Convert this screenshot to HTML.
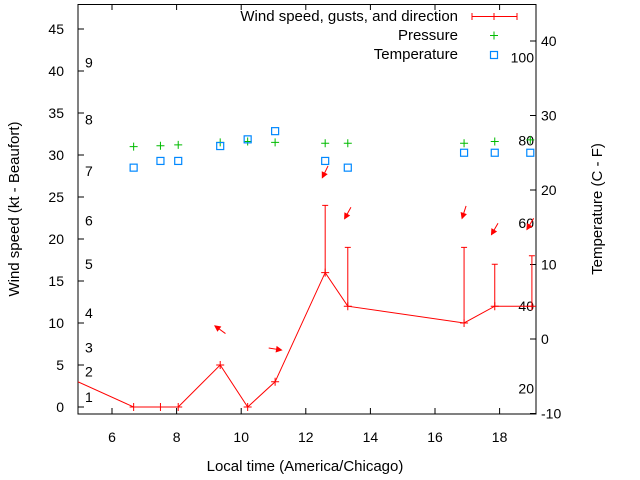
<!DOCTYPE html>
<html><head><meta charset="utf-8"><style>
body{margin:0;background:#fff;}
svg{display:block;font-family:"Liberation Sans",sans-serif;}
</style></head><body>
<svg width="640" height="480" viewBox="0 0 640 480">
<defs><clipPath id="clip"><rect x="78" y="4" width="458" height="410"/></clipPath></defs>
<g id="axes"></g>
<g id="plot" clip-path="url(#clip)"></g>
<g id="legend"></g>
<script>
const hours=[4.6,6.67,7.5,8.05,9.35,10.2,11.05,12.6,13.3,16.9,17.85,19.0];
const windKt=[3.6,0,0,0,5,0,3,16,12,10,12,12];
const gustKt=[null,null,null,null,null,null,null,24,19,19,17,18];
const pHours=[6.67,7.5,8.05,9.35,10.2,11.05,12.6,13.3,16.9,17.85,18.95];
const pressure=[31.0,31.1,31.2,31.5,31.6,31.5,31.4,31.4,31.4,31.6,31.8];
const tempC=[23.0,23.9,23.9,25.9,26.8,27.9,23.9,23.0,25.0,25.0,25.0];
const arrowHours=[9.35,11.05,12.6,13.3,16.9,17.85,18.95];
const arrowKt=[9.2,6.9,28.0,23.1,23.2,21.2,21.8];
const arrowDeg=[216,9,116,119,108,120,121];
const xTicks=[6,8,10,12,14,16,18];
const yTicks=[0,5,10,15,20,25,30,35,40,45];
const y2Ticks=[-10,0,10,20,30,40];
const fLabels=[20,40,60,80,100];
const bftLabels=[1,2,3,4,5,6,7,8,9];
const bftKt=[1.2,4.2,7.1,11.2,17.0,22.2,28.1,34.2,41.0];
const NS='http://www.w3.org/2000/svg';
const X=h=>112+(h-6)*32.3;
const Y=v=>407-v*8.4;
const Y2=c=>339-c*7.45;
function mk(tag,at,parent){const e=document.createElementNS(NS,tag);for(const k in at)e.setAttribute(k,at[k]);parent.appendChild(e);return e;}
const ax=document.getElementById('axes'),pl=document.getElementById('plot'),lg=document.getElementById('legend');
let b=mk('rect',{x:78,y:4.5,width:458,height:409.5,fill:'none',stroke:'#000','stroke-width':1},ax);

xTicks.forEach(t=>{const x=X(t);mk('line',{x1:x,x2:x,y1:414,y2:408,stroke:'#000'},ax);mk('line',{x1:x,x2:x,y1:4,y2:10,stroke:'#000'},ax);
 const tx=mk('text',{x:x,y:442,'text-anchor':'middle','font-size':14,fill:'#000'},ax);tx.textContent=t;
 });
yTicks.forEach(t=>{const y=Y(t);mk('line',{x1:78,x2:84,y1:y,y2:y,stroke:'#000'},ax);
 const tx=mk('text',{x:64,y:y+5,'text-anchor':'end','font-size':14,fill:'#000'},ax);tx.textContent=t;
 });
y2Ticks.forEach(t=>{const y=Y2(t);mk('line',{x1:536,x2:530,y1:y,y2:y,stroke:'#000'},ax);
 const tx=mk('text',{x:541,y:y+5,'font-size':14,fill:'#000'},ax);tx.textContent=t;
 });
fLabels.forEach(f=>{const c=(f-32)*5/9;const tx=mk('text',{x:534,y:Y2(c)+5,'text-anchor':'end','font-size':14,fill:'#000'},ax);tx.textContent=f;
 });
bftLabels.forEach((n,i)=>{const tx=mk('text',{x:85,y:Y(bftKt[i])+5,'font-size':14,fill:'#000'},ax);tx.textContent=n;
 });
let t1=mk('text',{x:305,y:471,'text-anchor':'middle','font-size':15,fill:'#000'},ax);t1.textContent='Local time (America/Chicago)';

let t2=mk('text',{x:0,y:0,transform:'translate(19,209) rotate(-90)','text-anchor':'middle','font-size':15,fill:'#000'},ax);t2.textContent='Wind speed (kt - Beaufort)';

let t3=mk('text',{x:0,y:0,transform:'translate(602,209) rotate(-90)','text-anchor':'middle','font-size':15,fill:'#000'},ax);t3.textContent='Temperature (C - F)';

let ln=mk('polyline',{points:hours.map((h,i)=>X(h)+','+Y(windKt[i])).join(' '),fill:'none',stroke:'#f00','stroke-width':1},pl);

hours.forEach((h,i)=>{const x=X(h),y=Y(windKt[i]);
 const g=mk('path',{d:`M${x-4} ${y}H${x+4}M${x} ${y-4}V${y+4}`,stroke:'#f00','stroke-width':1},pl);
 
 if(gustKt[i]!=null){const gy=Y(gustKt[i]);const e=mk('path',{d:`M${x} ${y}V${gy}M${x-3} ${gy}H${x+3}`,stroke:'#f00','stroke-width':1},pl);
  }});
pHours.forEach((h,i)=>{const x=X(h),y=Y(pressure[i]);
 const g=mk('path',{d:`M${x-4} ${y}H${x+4}M${x} ${y-4}V${y+4}`,stroke:'#0b0','stroke-width':1},pl);
 
 const s=mk('rect',{x:X(h)-3.5,y:Y2(tempC[i])-3.5,width:7,height:7,fill:'none',stroke:'#08f','stroke-width':1.2},pl);
 });
arrowHours.forEach((h,i)=>{const cx=X(h),cy=Y(arrowKt[i]);const a=arrowDeg[i]*Math.PI/180;
 const dx=Math.cos(a)*6.5,dy=Math.sin(a)*6.5;const x1=cx-dx,y1=cy-dy,x2=cx+dx,y2=cy+dy;
 const ux=dx/6.5,uy=dy/6.5;const px=-uy,py=ux;
 const g=mk('g',{},pl);
 mk('line',{x1:x1,y1:y1,x2:x2,y2:y2,stroke:'#f00','stroke-width':1},g);
 mk('polygon',{points:`${x2},${y2} ${x2-ux*5+px*2.5},${y2-uy*5+py*2.5} ${x2-ux*5-px*2.5},${y2-uy*5-py*2.5}`,fill:'#f00',stroke:'#f00'},g);});
[['Wind speed, gusts, and direction',21],['Pressure',40],['Temperature',59]].forEach((l,i)=>{
 const tx=mk('text',{x:458,y:l[1],'text-anchor':'end','font-size':15,fill:'#000'},lg);tx.textContent=l[0];
 });
let l1=mk('path',{d:'M472 16.5H517M472 13V20M517 13V20M494 13V20',stroke:'#f00','stroke-width':1},lg);

let l2=mk('path',{d:'M490 35.5H498M494 31.5V39.5',stroke:'#0b0','stroke-width':1},lg);

let l3=mk('rect',{x:490.5,y:51.5,width:7,height:7,fill:'none',stroke:'#08f','stroke-width':1.2},lg);

</script>
</svg>
</body></html>
